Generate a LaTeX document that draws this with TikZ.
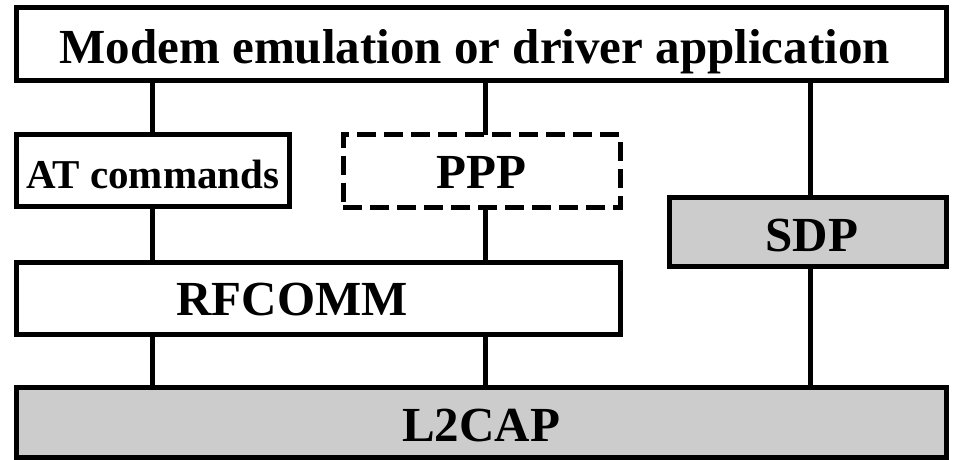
\documentclass[tikz,border=0pt]{standalone}
\usepackage{fontspec}
\setmainfont{Liberation Serif}
\definecolor{boxgray}{RGB}{204,204,204}
\begin{document}
\begin{tikzpicture}[x=1pt,y=-1pt,
  layer/.style={draw=black, line width=5pt, rectangle, inner sep=0pt, outer sep=0pt,
    font=\fontsize{49}{55}\selectfont\bfseries, text depth=0pt},
  shaded/.style={layer, fill=boxgray},
  dashedlayer/.style={layer, dash pattern=on 19pt off 8pt},
  link/.style={draw=black, line width=5pt}]
\useasboundingbox (0,0) rectangle (955,459);
\fill[white] (0,0) rectangle (955,459);
% boxes
\node[layer, minimum width=929.5pt, minimum height=73pt, text height=39pt] (app) at (481.25,43.5) {\hspace*{-13pt}Modem emulation or driver application};
\node[layer, minimum width=272.5pt, minimum height=71.5pt, text height=35.5pt,
  font=\fontsize{41}{46}\selectfont\bfseries] (at) at (152.75,170.25) {AT commands};
\node[dashedlayer, minimum width=277pt, minimum height=73pt, text height=34pt] (ppp) at (481.5,171) {PPP};
\node[shaded, minimum width=277pt, minimum height=69pt, text height=40pt] (sdp) at (807.5,231.5) {\hspace*{9pt}SDP};
\node[layer, minimum width=603.5pt, minimum height=72pt, text height=34pt] (rf) at (318.25,298) {\hspace*{-52pt}RFCOMM};
\node[shaded, minimum width=929.5pt, minimum height=70pt, text height=39pt] (l2) at (481.25,422) {L2CAP};
% connector columns
\coordinate (c1) at (152.5,0);
\coordinate (c2) at (485,0);
\coordinate (c3) at (810,0);
% connectors
\draw[link] (app.south -| c1) -- (at.north -| c1);
\draw[link] (at.south -| c1) -- (rf.north -| c1);
\draw[link] (rf.south -| c1) -- (l2.north -| c1);
\draw[link] (app.south -| c2) -- (ppp.north -| c2);
\draw[link] (ppp.south -| c2) -- (rf.north -| c2);
\draw[link] (rf.south -| c2) -- (l2.north -| c2);
\draw[link] (app.south -| c3) -- (sdp.north -| c3);
\draw[link] (sdp.south -| c3) -- (l2.north -| c3);
\end{tikzpicture}
\end{document}
